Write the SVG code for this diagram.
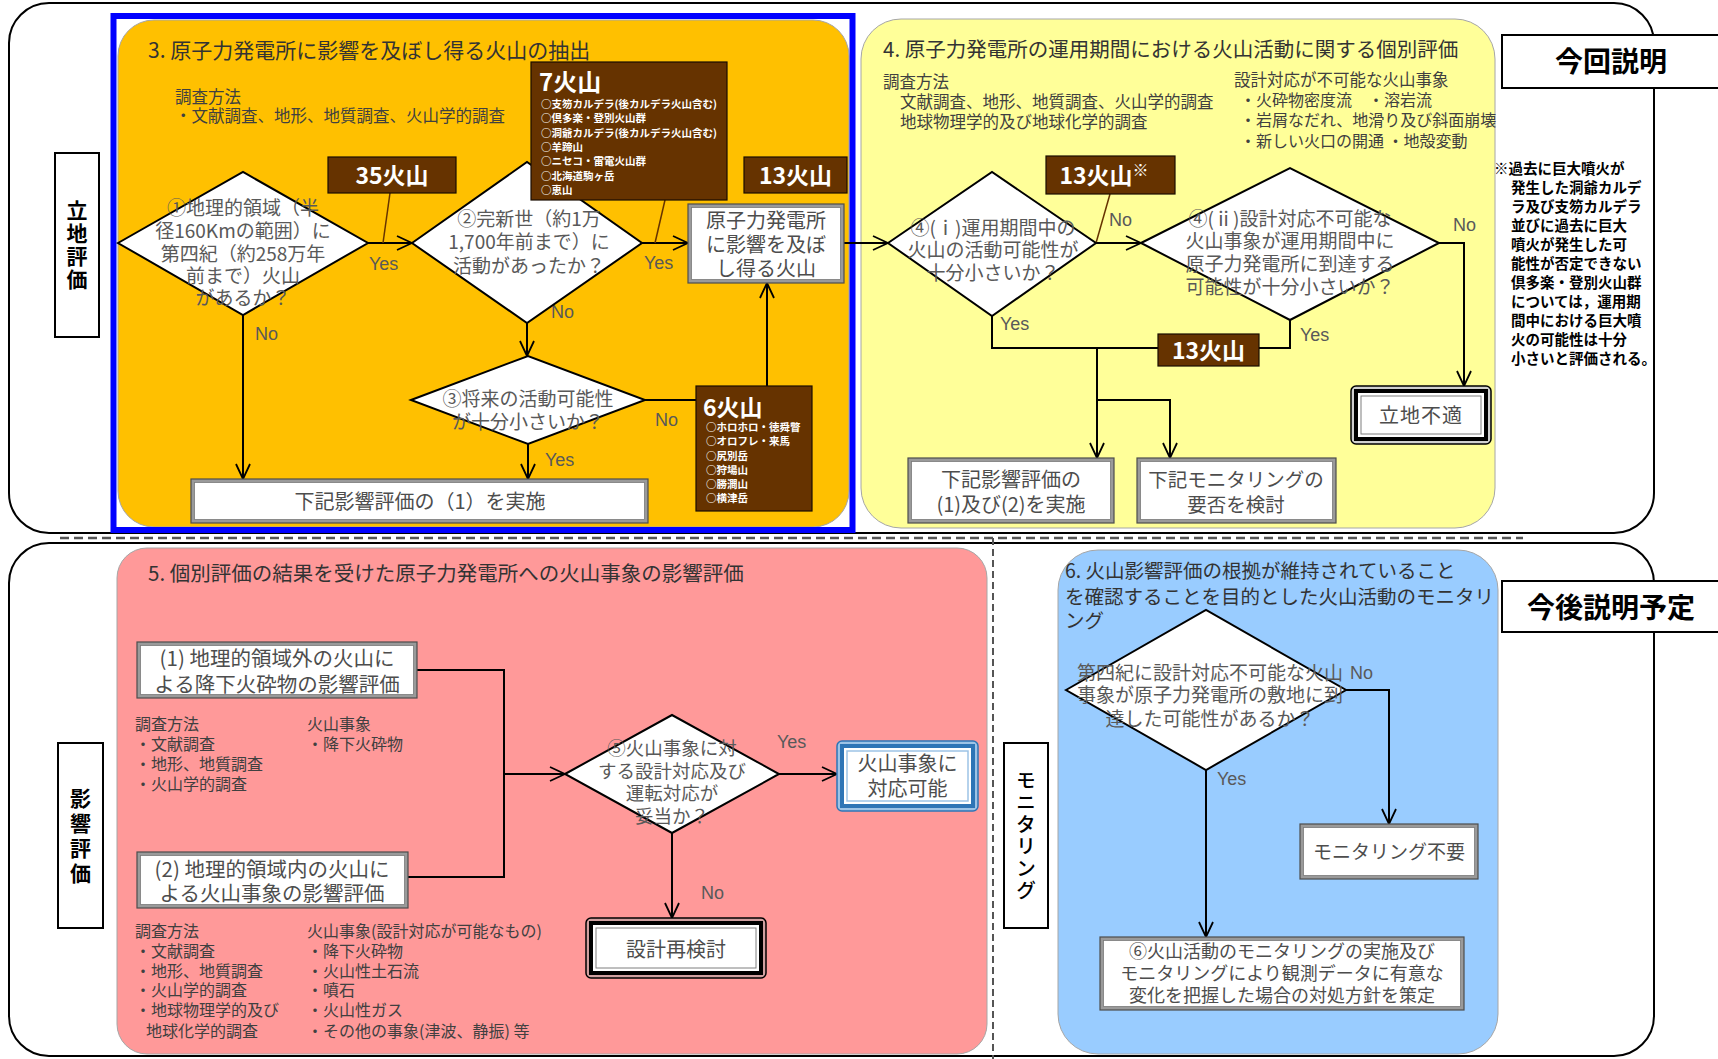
<svg xmlns="http://www.w3.org/2000/svg" width="1718" height="1059" viewBox="0 0 1718 1059">
<defs>
<style>
.jp{font-family:"Noto Sans CJK JP","Noto Sans CJK SC",sans-serif}
.en{font-family:"Liberation Sans",Arial,sans-serif;font-size:18px;fill:#595959}
.ttl{font-size:20.5px;fill:#333}
.body{font-size:16.5px;fill:#404040}
.sm{font-size:16px;fill:#404040}
.dt{font-size:19px;fill:#595959;text-anchor:middle}
.bt{font-size:20px;fill:#4d4d4d;text-anchor:middle}
.wb{fill:#fff;font-weight:700}
.lst{font-size:10.5px;fill:#fff;font-weight:700}
.brown{fill:#663300;stroke:#1a0d00;stroke-width:1.2}
.dia{fill:#fff;stroke:#000;stroke-width:2}
.bo{fill:#9a9a9a;stroke:#4d4d4d;stroke-width:1.2}
.bi{fill:#fff;stroke:#7a7a7a;stroke-width:0.8}
.con{fill:none;stroke:#000;stroke-width:2}
.call{fill:none;stroke:#663300;stroke-width:1.5}
.lbl{fill:#fff;stroke:#000;stroke-width:2}
.vl{font-size:21px;font-weight:700;fill:#000;text-anchor:middle;writing-mode:vertical-rl;letter-spacing:2px}
.big{font-size:28px;font-weight:700;fill:#000;text-anchor:middle}
.fn{font-size:14.5px;font-weight:700;fill:#000}
</style>
<marker id="arr" markerUnits="userSpaceOnUse" markerWidth="18" markerHeight="16" refX="16" refY="8" orient="auto">
<path d="M1,1 L16,8 L1,15" fill="none" stroke="#000" stroke-width="1.8"/>
</marker>
</defs>
<rect width="1718" height="1059" fill="#fff"/>

<g id="frames">
<rect x="9" y="3" width="1645" height="530" rx="40" fill="none" stroke="#000" stroke-width="2"/>
<rect x="9" y="543" width="1645" height="513" rx="40" fill="none" stroke="#000" stroke-width="2"/>
<path d="M60,538 H1523" stroke="#555" stroke-width="2.5" stroke-dasharray="9,5" fill="none"/>
<path d="M993,538 V1059" stroke="#555" stroke-width="2" stroke-dasharray="7,4" fill="none"/>
</g>

<g id="panels">
<rect x="118" y="20" width="731" height="507" rx="36" fill="#FFC000" stroke="#a6a6a6" stroke-width="1"/>
<rect x="861" y="19" width="634" height="509" rx="40" fill="#FFFF99" stroke="#a6a6a6" stroke-width="1"/>
<rect x="117" y="548" width="870" height="506" rx="30" fill="#FF9999" stroke="#a6a6a6" stroke-width="1"/>
<rect x="1058" y="550" width="440" height="504" rx="40" fill="#99CCFF" stroke="#a6a6a6" stroke-width="1"/>
<rect x="113.5" y="16" width="739" height="514" fill="none" stroke="#0000FF" stroke-width="6"/>
</g>

<g id="panel-texts" class="jp">
<text x="148" y="58" class="ttl" style="font-size:21px">3. 原子力発電所に影響を及ぼし得る火山の抽出</text>
<text x="175" y="103" class="body">調査方法</text>
<text x="175" y="122" class="body">・文献調査、地形、地質調査、火山学的調査</text>
<text x="883" y="57" class="ttl">4. 原子力発電所の運用期間における火山活動に関する個別評価</text>
<text x="883" y="88" class="body">調査方法</text>
<text x="900" y="108" class="body">文献調査、地形、地質調査、火山学的調査</text>
<text x="900" y="128" class="body">地球物理学的及び地球化学的調査</text>
<text x="1234" y="86" class="body">設計対応が不可能な火山事象</text>
<text x="1240" y="106" class="body" style="font-size:16px">・火砕物密度流　・溶岩流</text>
<text x="1240" y="126" class="body" style="font-size:16px">・岩屑なだれ、地滑り及び斜面崩壊</text>
<text x="1240" y="147" class="body" style="font-size:16px">・新しい火口の開通 ・地殻変動</text>
<text x="148" y="581" class="ttl">5. 個別評価の結果を受けた原子力発電所への火山事象の影響評価</text>
<text x="135" y="730" class="sm">調査方法</text>
<text x="135" y="750" class="sm">・文献調査</text>
<text x="135" y="770" class="sm">・地形、地質調査</text>
<text x="135" y="790" class="sm">・火山学的調査</text>
<text x="307" y="730" class="sm">火山事象</text>
<text x="307" y="750" class="sm">・降下火砕物</text>
<text x="135" y="937" class="sm">調査方法</text>
<text x="135" y="957" class="sm">・文献調査</text>
<text x="135" y="977" class="sm">・地形、地質調査</text>
<text x="135" y="996" class="sm">・火山学的調査</text>
<text x="135" y="1016" class="sm">・地球物理学的及び</text>
<text x="146" y="1037" class="sm">地球化学的調査</text>
<text x="307" y="937" class="sm">火山事象(設計対応が可能なもの)</text>
<text x="307" y="957" class="sm">・降下火砕物</text>
<text x="307" y="977" class="sm">・火山性土石流</text>
<text x="307" y="996" class="sm">・噴石</text>
<text x="307" y="1016" class="sm">・火山性ガス</text>
<text x="307" y="1037" class="sm">・その他の事象(津波、静振) 等</text>
<text x="1065" y="578" class="ttl" style="font-size:19.5px">6. 火山影響評価の根拠が維持されていること</text>
<text x="1065" y="604" class="ttl" style="font-size:19.5px">を確認することを目的とした火山活動のモニタリ</text>
<text x="1065" y="628" class="ttl" style="font-size:19.5px">ング</text>
</g>

<g id="connectors">
<path class="con" d="M368,243 H412" marker-end="url(#arr)"/>
<path class="con" d="M642,243 H688" marker-end="url(#arr)"/>
<path class="con" d="M844,243 H888" marker-end="url(#arr)"/>
<path class="con" d="M243,315 V479" marker-end="url(#arr)"/>
<path class="con" d="M527,323 V356" marker-end="url(#arr)"/>
<path class="con" d="M528,444 V479" marker-end="url(#arr)"/>
<path class="con" d="M645,400 H767 V283" marker-end="url(#arr)"/>
<path class="con" d="M1096,243 H1141" marker-end="url(#arr)"/>
<path class="con" d="M1439,243 H1464 V386" marker-end="url(#arr)"/>
<path class="con" d="M992,316 V348 H1290 V320"/>
<path class="con" d="M1097,348 V458" marker-end="url(#arr)"/>
<path class="con" d="M1097,400 H1170 V458" marker-end="url(#arr)"/>
<path class="con" d="M417,670 H504 V877 H408"/>
<path class="con" d="M504,774 H565" marker-end="url(#arr)"/>
<path class="con" d="M779,774 H837" marker-end="url(#arr)"/>
<path class="con" d="M672,833 V918" marker-end="url(#arr)"/>
<path class="con" d="M1346,690 H1389 V824" marker-end="url(#arr)"/>
<path class="con" d="M1206,770 V937" marker-end="url(#arr)"/>
<path class="call" d="M390,193 L383,243"/>
<path class="call" d="M665,200 L655,243"/>
<path class="call" d="M1110,194 L1096,243"/>
</g>

<g id="edge-labels" class="en">
<text x="369" y="270">Yes</text>
<text x="644" y="269">Yes</text>
<text x="255" y="340">No</text>
<text x="551" y="318">No</text>
<text x="655" y="426">No</text>
<text x="545" y="466">Yes</text>
<text x="1109" y="226">No</text>
<text x="1453" y="231">No</text>
<text x="1000" y="330">Yes</text>
<text x="1300" y="341">Yes</text>
<text x="777" y="748">Yes</text>
<text x="701" y="899">No</text>
<text x="1350" y="679">No</text>
<text x="1217" y="785">Yes</text>
</g>

<g id="label-ritchi" class="jp">
<rect x="55" y="153" width="44" height="184" class="lbl"/>
<text x="77" y="246" class="vl">立地評価</text>
</g>
<g id="label-eikyo" class="jp">
<rect x="58" y="743" width="45" height="185" class="lbl"/>
<text x="80.5" y="838" class="vl" style="letter-spacing:4px">影響評価</text>
</g>
<g id="label-monitoring" class="jp">
<rect x="1004" y="743" width="44" height="185" class="lbl"/>
<text x="1026" y="836" class="vl" style="font-size:20px;font-weight:500">モニタリング</text>
</g>
<g id="label-konkai" class="jp">
<rect x="1502" y="35" width="220" height="53" class="lbl"/>
<text x="1611" y="72" class="big">今回説明</text>
</g>
<g id="label-kongo" class="jp">
<rect x="1502" y="581" width="220" height="51" class="lbl"/>
<text x="1611" y="618" class="big">今後説明予定</text>
</g>

<g id="n-d1" class="jp">
<polygon class="dia" points="118,243 243,172 368,243 243,315"/>
<text class="dt"><tspan x="243" y="215">①地理的領域（半</tspan><tspan x="243" y="238">径160Kmの範囲）に</tspan><tspan x="243" y="261">第四紀（約258万年</tspan><tspan x="243" y="283">前まで）火山</tspan><tspan x="243" y="305">があるか？</tspan></text>
</g>
<g id="n-d2" class="jp">
<polygon class="dia" points="412,243 527,162 642,243 527,323"/>
<text class="dt"><tspan x="529" y="226">②完新世（約1万</tspan><tspan x="529" y="249">1,700年前まで）に</tspan><tspan x="529" y="273">活動があったか？</tspan></text>
</g>
<g id="n-7" class="jp">
<rect x="531" y="62" width="196" height="138" class="brown"/>
<text x="539" y="91" class="wb" style="font-size:24px">7火山</text>
<text class="lst"><tspan x="541" y="108">○支笏カルデラ(後カルデラ火山含む)</tspan><tspan x="541" y="122">○倶多楽・登別火山群</tspan><tspan x="541" y="137">○洞爺カルデラ(後カルデラ火山含む)</tspan><tspan x="541" y="151">○羊蹄山</tspan><tspan x="541" y="165">○ニセコ・雷電火山群</tspan><tspan x="541" y="179.5">○北海道駒ヶ岳</tspan><tspan x="541" y="194">○恵山</tspan></text>
</g>
<g id="n-35" class="jp">
<rect x="328" y="157" width="128" height="36" class="brown"/>
<text x="392" y="184" class="wb" style="font-size:23px" text-anchor="middle">35火山</text>
</g>
<g id="n-13a" class="jp">
<rect x="744" y="157" width="103" height="36" class="brown"/>
<text x="795.5" y="184" class="wb" style="font-size:23px" text-anchor="middle">13火山</text>
</g>
<g id="n-affect" class="jp">
<rect x="688" y="204" width="156" height="79" class="bo"/>
<rect x="691.5" y="207.5" width="149" height="72" class="bi"/>
<text class="bt"><tspan x="766" y="228">原子力発電所</tspan><tspan x="766" y="252">に影響を及ぼ</tspan><tspan x="766" y="276">し得る火山</tspan></text>
</g>
<g id="n-d3" class="jp">
<polygon class="dia" points="411,400 528,356 645,400 528,444"/>
<text class="dt"><tspan x="528" y="406">③将来の活動可能性</tspan><tspan x="528" y="429">が十分小さいか？</tspan></text>
</g>
<g id="n-6" class="jp">
<rect x="696" y="386" width="116" height="125" class="brown"/>
<text x="703" y="416" class="wb" style="font-size:23px">6火山</text>
<text class="lst"><tspan x="706" y="431">○ホロホロ・徳舜瞥</tspan><tspan x="706" y="445">○オロフレ・来馬</tspan><tspan x="706" y="460">○尻別岳</tspan><tspan x="706" y="474">○狩場山</tspan><tspan x="706" y="488">○勝澗山</tspan><tspan x="706" y="502">○横津岳</tspan></text>
</g>
<g id="n-eval1" class="jp">
<rect x="191" y="479" width="457" height="44" class="bo"/>
<rect x="194.5" y="482.5" width="450" height="37" class="bi"/>
<text x="420" y="509" class="bt">下記影響評価の（1）を実施</text>
</g>

<g id="n-di" class="jp">
<polygon class="dia" points="888,243 992,172 1096,243 992,316"/>
<text class="dt"><tspan x="993" y="235">④(ⅰ)運用期間中の</tspan><tspan x="993" y="257">火山の活動可能性が</tspan><tspan x="993" y="280">十分小さいか？</tspan></text>
</g>
<g id="n-13b" class="jp">
<rect x="1046" y="156" width="129" height="38" class="brown"/>
<text x="1104" y="184" class="wb" style="font-size:23px" text-anchor="middle">13火山<tspan font-size="16" dy="-8">※</tspan></text>
</g>
<g id="n-dii" class="jp">
<polygon class="dia" points="1141,243 1290,168 1439,243 1290,320"/>
<text class="dt"><tspan x="1290" y="226">④(ⅱ)設計対応不可能な</tspan><tspan x="1290" y="248">火山事象が運用期間中に</tspan><tspan x="1290" y="271">原子力発電所に到達する</tspan><tspan x="1290" y="294">可能性が十分小さいか？</tspan></text>
</g>
<g id="n-13c" class="jp">
<rect x="1158" y="334" width="101" height="32" class="brown"/>
<text x="1208.5" y="359" class="wb" style="font-size:23px" text-anchor="middle">13火山</text>
</g>
<g id="n-unfit" class="jp">
<rect x="1351" y="386" width="140" height="58" rx="5" fill="#d0d0d0" stroke="#000" stroke-width="1.5"/>
<rect x="1356" y="391" width="130" height="48" fill="#fff" stroke="#000" stroke-width="4"/>
<rect x="1361" y="396" width="120" height="38" fill="#fff" stroke="#7f7f7f" stroke-width="1"/>
<text x="1421" y="423" class="bt" style="letter-spacing:1px">立地不適</text>
</g>
<g id="n-evalA" class="jp">
<rect x="908" y="458" width="206" height="65" class="bo"/>
<rect x="911.5" y="461.5" width="199" height="58" class="bi"/>
<text class="bt"><tspan x="1011" y="487">下記影響評価の</tspan><tspan x="1011" y="512">(1)及び(2)を実施</tspan></text>
</g>
<g id="n-monB" class="jp">
<rect x="1137" y="458" width="199" height="65" class="bo"/>
<rect x="1140.5" y="461.5" width="192" height="58" class="bi"/>
<text class="bt" style="font-size:19.5px"><tspan x="1236" y="486.5">下記モニタリングの</tspan><tspan x="1236" y="511.5">要否を検討</tspan></text>
</g>
<g id="n-note" class="jp">
<text class="fn"><tspan x="1494" y="173.5">※過去に巨大噴火が</tspan><tspan x="1511" y="192.5">発生した洞爺カルデ</tspan><tspan x="1511" y="211.5">ラ及び支笏カルデラ</tspan><tspan x="1511" y="230.5">並びに過去に巨大</tspan><tspan x="1511" y="249.5">噴火が発生した可</tspan><tspan x="1511" y="268.5">能性が否定できない</tspan><tspan x="1511" y="287.5">倶多楽・登別火山群</tspan><tspan x="1511" y="306.5">については，運用期</tspan><tspan x="1511" y="325.5">間中における巨大噴</tspan><tspan x="1511" y="344.5">火の可能性は十分</tspan><tspan x="1511" y="363.5">小さいと評価される。</tspan></text>
</g>

<g id="n-e1" class="jp">
<rect x="137" y="642" width="280" height="56" class="bo"/>
<rect x="140.5" y="645.5" width="273" height="49" class="bi"/>
<text class="bt" style="font-size:20.5px"><tspan x="277" y="666">(1) 地理的領域外の火山に</tspan><tspan x="277" y="692">よる降下火砕物の影響評価</tspan></text>
</g>
<g id="n-e2" class="jp">
<rect x="137" y="852" width="271" height="56" class="bo"/>
<rect x="140.5" y="855.5" width="264" height="49" class="bi"/>
<text class="bt" style="font-size:20.5px"><tspan x="272" y="877">(2) 地理的領域内の火山に</tspan><tspan x="272" y="901">よる火山事象の影響評価</tspan></text>
</g>
<g id="n-d5" class="jp">
<polygon class="dia" points="565,774 672,715 779,774 672,833"/>
<text class="dt" style="font-size:18.5px"><tspan x="672" y="755">⑤火山事象に対</tspan><tspan x="672" y="778">する設計対応及び</tspan><tspan x="672" y="800">運転対応が</tspan><tspan x="672" y="823">妥当か？</tspan></text>
</g>
<g id="n-ok" class="jp">
<rect x="837" y="741" width="141" height="70" rx="5" fill="#9DC3E6" stroke="#2E75B6" stroke-width="1.5"/>
<rect x="842" y="746" width="131" height="60" fill="#fff" stroke="#2E75B6" stroke-width="4"/>
<rect x="847" y="751" width="121" height="50" fill="#fff" stroke="#9DC3E6" stroke-width="1.5"/>
<text class="bt"><tspan x="907.5" y="771">火山事象に</tspan><tspan x="907.5" y="796">対応可能</tspan></text>
</g>
<g id="n-redesign" class="jp">
<rect x="586" y="918" width="180" height="60" rx="5" fill="#d0a0a0" stroke="#000" stroke-width="1.5"/>
<rect x="591" y="923" width="170" height="50" fill="#fff" stroke="#000" stroke-width="4"/>
<rect x="596" y="928" width="160" height="40" fill="#fff" stroke="#7f7f7f" stroke-width="1"/>
<text x="676" y="957" class="bt">設計再検討</text>
</g>

<g id="n-d6" class="jp">
<polygon class="dia" points="1066,690 1206,610 1346,690 1206,770"/>
<text class="dt"><tspan x="1210" y="680">第四紀に設計対応不可能な火山</tspan><tspan x="1210" y="702">事象が原子力発電所の敷地に到</tspan><tspan x="1210" y="726">達した可能性があるか？</tspan></text>
</g>
<g id="n-nomon" class="jp">
<rect x="1300" y="824" width="178" height="55" class="bo"/>
<rect x="1303.5" y="827.5" width="171" height="48" class="bi"/>
<text x="1389" y="859" class="bt" style="font-size:19px">モニタリング不要</text>
</g>
<g id="n-mon6" class="jp">
<rect x="1100" y="937" width="364" height="73" class="bo"/>
<rect x="1103.5" y="940.5" width="357" height="66" class="bi"/>
<text class="bt" style="font-size:18px"><tspan x="1282" y="958">⑥火山活動のモニタリングの実施及び</tspan><tspan x="1282" y="980">モニタリングにより観測データに有意な</tspan><tspan x="1282" y="1002">変化を把握した場合の対処方針を策定</tspan></text>
</g>
</svg>
